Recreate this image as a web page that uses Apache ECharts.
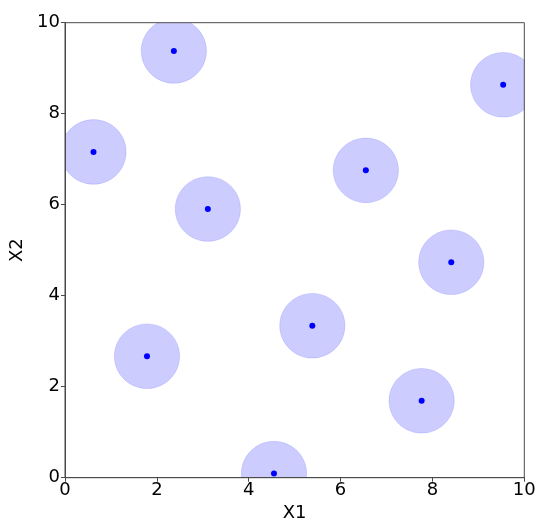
<!DOCTYPE html>
<html>
<head>
<meta charset="utf-8">
<script src="https://cdn.jsdelivr.net/npm/echarts@6/dist/echarts.min.js"></script>
<style>html,body{margin:0;padding:0;background:#fff}#chart{width:550px;height:530px}</style>
</head>
<body>
<div id="chart"></div>
<script>
var x1Values = [2.37, 0.62, 3.11, 9.54, 6.55, 8.41, 5.385, 1.785, 7.765, 4.55];
var x2Values = [9.38, 7.16, 5.905, 8.635, 6.755, 4.735, 3.34, 2.67, 1.69, 0.09];
var circleRadius = 0.71;
var xTicks = [0, 2, 4, 6, 8, 10];
var yTicks = [0, 2, 4, 6, 8, 10];

var points = x1Values.map(function (x, i) { return [x, x2Values[i]]; });
var font = 'DejaVu Sans';
var axisColor = '#4a4a4a';
var xMin = xTicks[0], xMax = xTicks[xTicks.length - 1];
var yMin = yTicks[0], yMax = yTicks[yTicks.length - 1];

var chart = echarts.init(document.getElementById('chart'), null, {renderer: 'canvas'});
chart.setOption({
  animation: false,
  grid: {left: 65, right: 25.7, top: 22.7, bottom: 52.3, show: true, borderColor: axisColor, borderWidth: 1, backgroundColor: 'transparent', z: 10},
  xAxis: {
    type: 'value', min: xMin, max: xMax, interval: 2, z: 10,
    name: 'X1', nameLocation: 'middle', nameGap: 25,
    nameTextStyle: {fontFamily: font, fontSize: 18, color: '#000'},
    axisLine: {show: true, lineStyle: {color: axisColor, width: 1}},
    axisTick: {show: true, length: 4, lineStyle: {color: axisColor}},
    axisLabel: {fontFamily: font, fontSize: 18, color: '#000', margin: 4},
    splitLine: {show: false}
  },
  yAxis: {
    type: 'value', min: yMin, max: yMax, interval: 2, z: 10,
    name: 'X2', nameLocation: 'middle', nameGap: 32, nameRotate: 90,
    nameTextStyle: {fontFamily: font, fontSize: 18, color: '#000'},
    axisLine: {show: true, lineStyle: {color: axisColor, width: 1}},
    axisTick: {show: true, length: 4, lineStyle: {color: axisColor}},
    axisLabel: {fontFamily: font, fontSize: 18, color: '#000', margin: 5},
    splitLine: {show: false}
  },
  series: [
    {
      type: 'custom',
      data: points,
      renderItem: function (params, api) {
        var c = api.coord([api.value(0), api.value(1)]);
        var s = api.size([circleRadius, circleRadius]);
        return {
          type: 'ellipse',
          shape: {cx: c[0], cy: c[1], rx: s[0], ry: s[1]},
          style: {fill: 'rgba(0,0,255,0.2)', stroke: 'rgba(0,0,255,0.12)', lineWidth: 1}
        };
      },
      z: 2
    },
    {
      type: 'scatter',
      data: points,
      symbol: 'circle',
      symbolSize: 6,
      itemStyle: {color: '#0000ff', opacity: 1},
      z: 3
    },
    {
      type: 'custom',
      data: [[xMin, yMin]],
      silent: true,
      renderItem: function (params, api) {
        var p0 = api.coord([xMin, yMin]);
        var p1 = api.coord([xMax, yMax]);
        var left = Math.min(p0[0], p1[0]), right = Math.max(p0[0], p1[0]);
        var top = Math.min(p0[1], p1[1]), bottom = Math.max(p0[1], p1[1]);
        var W = api.getWidth(), H = api.getHeight();
        var st = {fill: '#ffffff'};
        return {
          type: 'group',
          children: [
            {type: 'rect', shape: {x: 0, y: 0, width: left, height: H}, style: st},
            {type: 'rect', shape: {x: right, y: 0, width: W - right, height: H}, style: st},
            {type: 'rect', shape: {x: 0, y: 0, width: W, height: top}, style: st},
            {type: 'rect', shape: {x: 0, y: bottom, width: W, height: H - bottom}, style: st}
          ]
        };
      },
      z: 5
    }
  ]
});
</script>
</body>
</html>
